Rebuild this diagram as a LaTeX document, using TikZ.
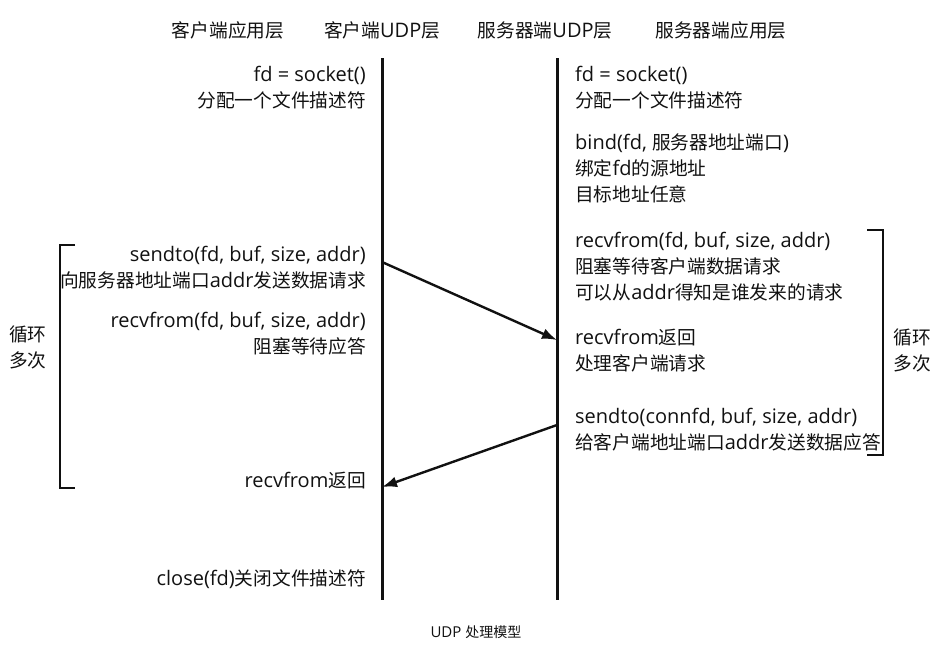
\documentclass[tikz,border=0pt]{standalone}
\usepackage{fontspec}
\setmainfont{Open Sans}
\newfontfamily\zhfont{Noto Sans CJK SC}[Scale=0.935]
\newcommand{\zh}[1]{{\zhfont #1}}
\usetikzlibrary{arrows.meta}
\definecolor{InkBlack}{HTML}{111111}

\begin{document}
\begin{tikzpicture}[x=1pt, y=-1pt,
      txt/.style={inner sep=0pt, text=InkBlack, font=\fontsize{20}{26}\selectfont},
      lblock/.style={txt, anchor=north east, align=right},
      rblock/.style={txt, anchor=north west, align=left},
      head/.style={txt, anchor=center},
      lifeline/.style={draw=InkBlack, line width=3pt},
      msg/.style={draw=InkBlack, line width=2.4pt, -{Latex[length=15pt, width=11pt]}},
      loopbar/.style={draw=InkBlack, line width=2.4pt}]
      \useasboundingbox (0,0) rectangle (942,651);
      % Layer headers
      \node[head] (happc) at (228,30) {\zh{客户端应用层}};
      \node[head] (hudpc) at (382,30) {\zh{客户端}UDP\zh{层}};
      \node[head] (hudps) at (545,30) {\zh{服务器端}UDP\zh{层}};
      \node[head] (happs) at (721,30) {\zh{服务器端应用层}};
      % Lifelines
      \coordinate (ctop) at (382,58);  \coordinate (cbot) at (382,600);
      \coordinate (stop) at (557,58);  \coordinate (sbot) at (557,600);
      \draw[lifeline] (ctop) -- (cbot);
      \draw[lifeline] (stop) -- (sbot);
      % Client side
      \node[lblock] (csock)  at (366,66)  {fd = socket()\\\zh{分配一个文件描述符}};
      \node[lblock] (csend)  at (366,246) {sendto(fd, buf, size, addr)\\\zh{向服务器地址端口}addr\zh{发送数据请求}};
      \node[lblock] (crecv)  at (366,312) {recvfrom(fd, buf, size, addr)\\\zh{阻塞等待应答}};
      \node[lblock] (cret)   at (366,472) {recvfrom\zh{返回}};
      \node[lblock] (cclose) at (366,569) {close(fd)\zh{关闭文件描述符}};
      % Server side
      \node[rblock] (ssock) at (575,66)  {fd = socket()\\\zh{分配一个文件描述符}};
      \node[rblock] (sbind) at (575,134) {bind(fd, \zh{服务器地址端口})\\\zh{绑定}fd\zh{的源地址}\\\zh{目标地址任意}};
      \node[rblock] (srecv) at (575,232) {recvfrom(fd, buf, size, addr)\\\zh{阻塞等待客户端数据请求}\\\zh{可以从}addr\zh{得知是谁发来的请求}};
      \node[rblock] (sret)  at (575,329) {recvfrom\zh{返回}\\\zh{处理客户端请求}};
      \node[rblock] (ssend) at (575,408) {sendto(connfd, buf, size, addr)\\\zh{给客户端地址端口}addr\zh{发送数据应答}};
      % Messages
      \coordinate (req0) at (382,262); \coordinate (req1) at (557,340);
      \coordinate (ack0) at (557,425); \coordinate (ack1) at (382,487);
      \draw[msg] (req0) -- (req1);
      \draw[msg] (ack0) -- (ack1);
      % Loop brackets
      \draw[loopbar] (75,245) -- (60,245) -- (60,488) -- (75,488);
      \draw[loopbar] (867,230) -- (883,230) -- (883,455) -- (867,455);
      \node[head, align=center] (lloop) at (28,347)  {\zh{循环}\\\zh{多次}};
      \node[head, align=center] (rloop) at (912,350) {\zh{循环}\\\zh{多次}};
      % Caption
      \node[txt, font=\fontsize{15}{18}\selectfont] (cap) at (476,632) {UDP \zh{处理模型}};
\end{tikzpicture}
\end{document}
